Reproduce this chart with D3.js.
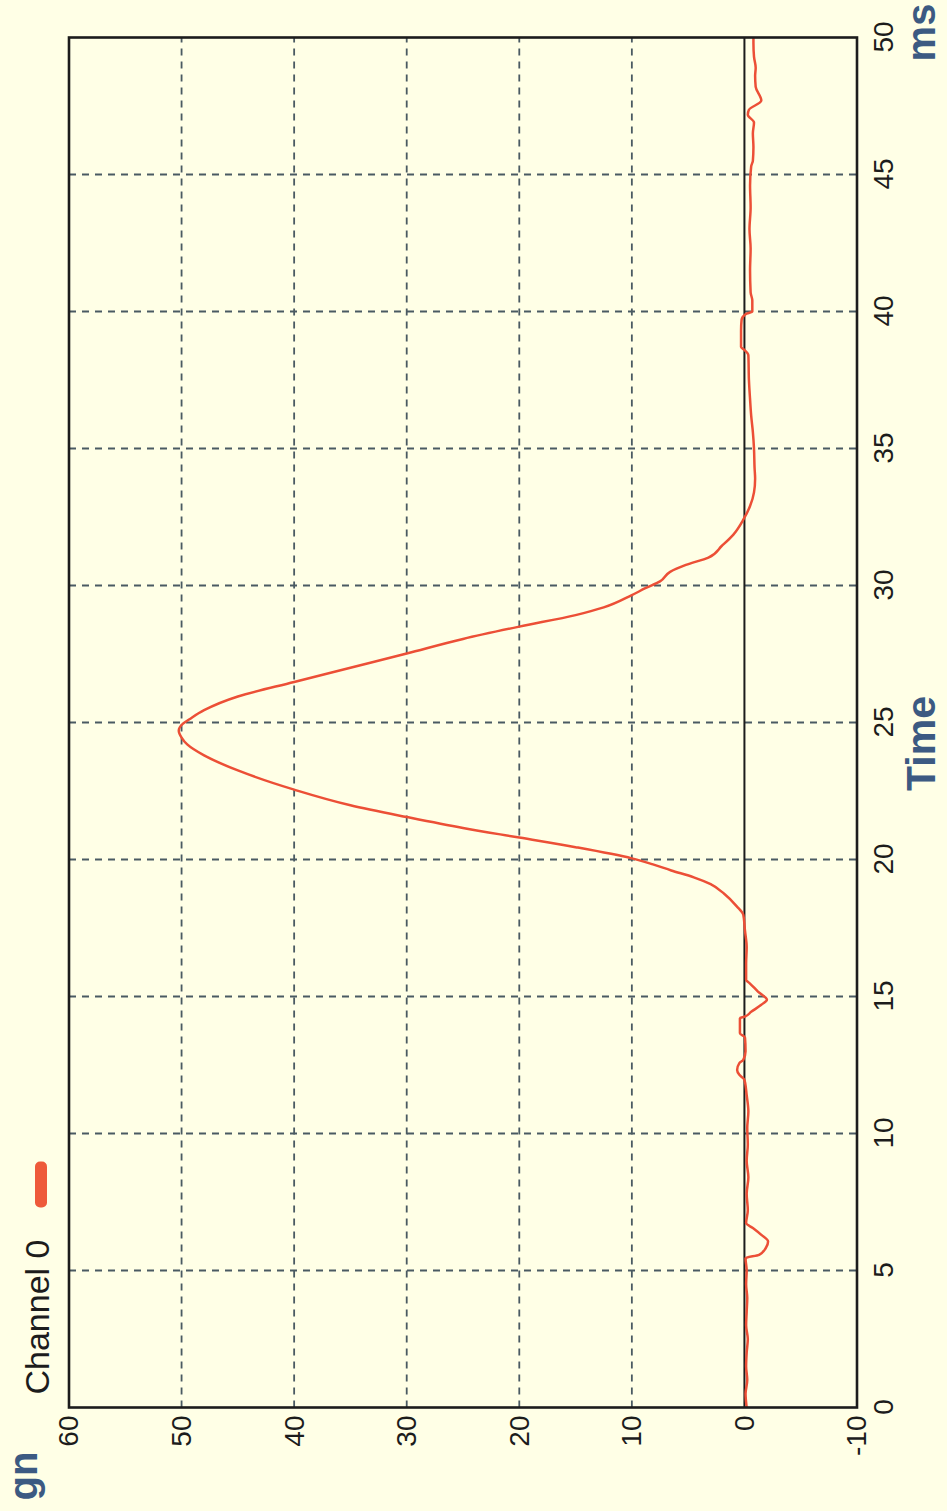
<!DOCTYPE html>
<html>
<head>
<meta charset="utf-8">
<script src="https://cdn.jsdelivr.net/npm/d3@7"></script>
<style>
  html, body { margin: 0; padding: 0; background: #FFFFE6; }
  svg { display: block; }
</style>
</head>
<body>
<svg id="chart"></svg>
<script>
// values (time in ms, acceleration in gn)
const timeMs = [
  0.0, 0.5, 1.0, 1.5, 2.0, 2.5, 3.0, 3.5, 4.0, 4.5, 5.0, 5.45, 5.57, 5.82, 6.06, 6.3, 6.55, 6.73,
  7.2, 7.8, 8.4, 9.0, 9.6, 10.2, 10.8, 11.4, 11.96, 12.14, 12.32, 12.57, 12.69, 13.0, 13.5,
  13.66, 14.21, 14.26, 14.44, 14.7, 14.88, 15.18, 15.49, 15.6, 16.2, 16.8, 17.4, 17.98,
  18.3, 18.75, 19.1, 19.35, 19.6, 19.83, 20.04, 20.45, 20.8, 21.15, 21.55, 21.98, 22.55,
  23.25, 23.8, 24.2, 24.45, 24.7, 24.95, 25.12, 25.45, 25.95, 26.48, 27.0, 27.52, 28.05,
  28.5, 28.92, 29.2, 29.65, 29.9, 30.15, 30.5, 30.75, 31.02, 31.45, 31.85, 32.4, 32.9, 33.4, 33.9,
  34.3, 35.0, 35.6, 36.2, 36.8, 37.5, 38.4, 38.6, 38.7, 39.3, 39.7, 39.9, 40.0, 40.4, 40.7,
  41.5, 42.3, 43.0, 43.8, 44.6, 45.3, 45.5, 46.0, 46.5, 46.9, 47.18, 47.36, 47.7, 48.2, 48.6,
  48.9, 49.3, 49.8, 50.0
];
const gnValues = [
  -0.2, -0.1, -0.25, -0.15, -0.2, -0.3, -0.15, -0.2, -0.25, -0.15, -0.2, -0.1, -1.3, -1.9, -2.1, -1.5, -0.75, -0.15,
  -0.3, -0.2, -0.35, -0.2, -0.3, -0.25, -0.35, -0.2, 0.0, 0.45, 0.65, 0.45, 0.1, -0.1, -0.05,
  0.4, 0.4, 0.0, -0.6, -1.5, -2.0, -1.2, -0.45, -0.15, -0.15, -0.2, -0.05, 0.1,
  0.7, 1.8, 3.0, 4.5, 6.5, 8.2, 10.0, 15.0, 20.0, 25.0, 30.0, 35.0, 40.0,
  45.0, 48.0, 49.5, 50.0, 50.25, 49.9, 49.3, 48.0, 45.0, 40.0, 35.0, 30.0, 25.0,
  20.0, 15.0, 12.5, 10.0, 8.8, 7.5, 6.6, 5.2, 3.2, 2.0, 1.0, 0.1, -0.5, -0.85, -0.95,
  -0.9, -0.85, -0.75, -0.6, -0.5, -0.4, -0.35, 0.0, 0.3, 0.3, 0.25, -0.1, -0.7, -0.7, -0.55,
  -0.5, -0.55, -0.45, -0.55, -0.5, -0.6, -0.75, -0.8, -0.75, -0.85, -0.3, -0.4, -1.5, -1.0, -0.95,
  -1.0, -0.85, -0.8, -0.8
];
const timeTicks = [0, 5, 10, 15, 20, 25, 30, 35, 40, 45, 50];
const gnTicks = [-10, 0, 10, 20, 30, 40, 50, 60];
const gridTimes = [5, 10, 15, 20, 25, 30, 35, 40, 45];
const gridGn = [10, 20, 30, 40, 50];
const seriesName = "Channel 0";
const xTitle = "Time";
const xUnit = "ms";
const yUnit = "gn";

const W = 947, H = 1511;
// the printout is turned a quarter turn anticlockwise, so draw it upright and rotate the group
const plotW = 1370, plotH = 788;
const originX = 69, originY = 1407.5;

const bg = "#FFFFE6", ink = "#1c1c1c", gridCol = "#4a5a62", lineCol = "#EC4F36", titleCol = "#3c5a82";
const fontFam = "'Liberation Sans', Arial, sans-serif";

const svg = d3.select("#chart").attr("width", W).attr("height", H);
svg.append("rect").attr("width", W).attr("height", H).attr("fill", bg);

const g = svg.append("g")
  .attr("transform", `translate(${originX},${originY}) rotate(-90)`);

const x = d3.scaleLinear().domain([0, 50]).range([0, plotW]);
const y = d3.scaleLinear().domain([-10, 60]).range([plotH, 0]);

// dashed grid
g.append("g").selectAll("line").data(gridTimes).join("line")
  .attr("x1", d => x(d)).attr("x2", d => x(d))
  .attr("y1", 0).attr("y2", plotH)
  .attr("stroke", gridCol).attr("stroke-width", 1.8).attr("stroke-dasharray", "7,6");
g.append("g").selectAll("line").data(gridGn).join("line")
  .attr("x1", 0).attr("x2", plotW)
  .attr("y1", d => y(d)).attr("y2", d => y(d))
  .attr("stroke", gridCol).attr("stroke-width", 1.8).attr("stroke-dasharray", "7,6");

// zero line
g.append("line")
  .attr("x1", 0).attr("x2", plotW).attr("y1", y(0)).attr("y2", y(0))
  .attr("stroke", ink).attr("stroke-width", 2);

// the trace
const pts = timeMs.map((t, i) => ({ t: t, v: gnValues[i] }));
const line = d3.line().x(d => x(d.t)).y(d => y(d.v)).curve(d3.curveMonotoneX);
g.append("path").datum(pts)
  .attr("d", line)
  .attr("fill", "none").attr("stroke", lineCol).attr("stroke-width", 2.5)
  .attr("stroke-linejoin", "round");

// frame
g.append("rect").attr("x", 0).attr("y", 0).attr("width", plotW).attr("height", plotH)
  .attr("fill", "none").attr("stroke", ink).attr("stroke-width", 2.6);

// axes (labels only)
const xAxis = g.append("g").attr("transform", `translate(0,${plotH})`)
  .call(d3.axisBottom(x).tickValues(timeTicks).tickSize(0).tickPadding(16).tickFormat(d3.format("d")));
const yAxis = g.append("g")
  .call(d3.axisLeft(y).tickValues(gnTicks).tickSize(0).tickPadding(8).tickFormat(d => d < 0 ? "-" + Math.abs(d) : d));
[xAxis, yAxis].forEach(a => {
  a.select(".domain").remove();
  a.selectAll("text").attr("fill", ink).style("font-family", fontFam).style("font-size", "28px");
});

// axis titles
g.append("text").attr("x", 664).attr("y", 866).attr("text-anchor", "middle")
  .attr("fill", titleCol).style("font-family", fontFam).style("font-size", "41px").style("font-weight", "bold")
  .text(xTitle);
g.append("text").attr("x", 1375).attr("y", 866).attr("text-anchor", "middle")
  .attr("fill", titleCol).style("font-family", fontFam).style("font-size", "40px").style("font-weight", "bold")
  .text(xUnit);
g.append("text").attr("x", -93).attr("y", -32).attr("text-anchor", "start")
  .attr("fill", titleCol).style("font-family", fontFam).style("font-size", "40px").style("font-weight", "bold")
  .text(yUnit);

// legend
g.append("text").attr("x", 13).attr("y", -20)
  .attr("fill", ink).style("font-family", fontFam).style("font-size", "34px")
  .text(seriesName);
g.append("rect").attr("x", 200).attr("y", -34).attr("width", 46).attr("height", 12).attr("rx", 5)
  .attr("fill", "#EE5A3A");
</script>
</body>
</html>
